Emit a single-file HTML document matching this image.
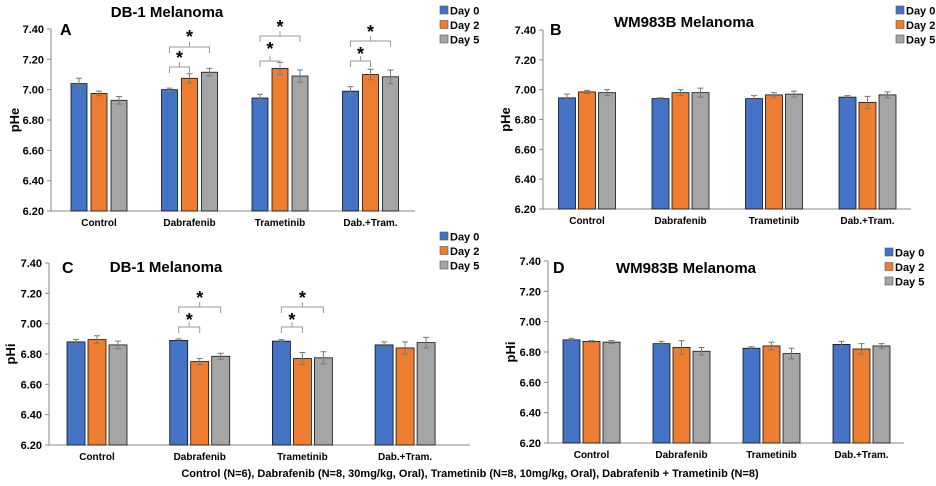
<!DOCTYPE html>
<html><head><meta charset="utf-8"><style>
body{margin:0;background:#fff;}
svg{display:block;font-family:"Liberation Sans",Arial,sans-serif;font-weight:bold;}
</style></head><body>
<svg id="fig" width="936" height="486" viewBox="0 0 936 486"></svg>
<script>
const categories=["Control","Dabrafenib","Trametinib","Dab.+Tram."];
const seriesNames=["Day 0","Day 2","Day 5"];
const yTicks=[6.2,6.4,6.6,6.8,7.0,7.2,7.4];
const yTickLabels=["6.20","6.40","6.60","6.80","7.00","7.20","7.40"];
// Panel A (pHe DB-1)
const aDay0=[7.04,7.00,6.945,6.99];
const aDay2=[6.975,7.075,7.14,7.10];
const aDay5=[6.93,7.115,7.09,7.085];
const aErr0=[0.035,0.01,0.025,0.03];
const aErr2=[0.015,0.03,0.04,0.035];
const aErr5=[0.025,0.025,0.04,0.045];
// Panel B (pHe WM983B)
const bDay0=[6.945,6.94,6.94,6.95];
const bDay2=[6.985,6.98,6.965,6.915];
const bDay5=[6.98,6.98,6.97,6.965];
const bErr0=[0.025,0.005,0.02,0.01];
const bErr2=[0.01,0.02,0.015,0.04];
const bErr5=[0.02,0.03,0.02,0.02];
// Panel C (pHi DB-1)
const cDay0=[6.88,6.89,6.885,6.86];
const cDay2=[6.895,6.75,6.77,6.84];
const cDay5=[6.86,6.785,6.775,6.875];
const cErr0=[0.015,0.01,0.01,0.02];
const cErr2=[0.025,0.02,0.04,0.04];
const cErr5=[0.025,0.02,0.04,0.035];
// Panel D (pHi WM983B)
const dDay0=[6.88,6.855,6.825,6.85];
const dDay2=[6.87,6.83,6.84,6.82];
const dDay5=[6.865,6.805,6.79,6.84];
const dErr0=[0.01,0.015,0.01,0.02];
const dErr2=[0.005,0.045,0.025,0.035];
const dErr5=[0.01,0.025,0.035,0.015];

const colors=["#4472c4","#ed7d31","#a5a5a5"];
const NS="http://www.w3.org/2000/svg";
const svg=document.getElementById('fig');
function mk(tag,attrs,parent,text){const e=document.createElementNS(NS,tag);for(const k in attrs)e.setAttribute(k,attrs[k]);if(text!==undefined)e.textContent=text;(parent||svg).appendChild(e);return e;}

const panels=[
 {id:"a",letter:"A",title:"DB-1 Melanoma",ylab:"pHe",vals:[aDay0,aDay2,aDay5],errs:[aErr0,aErr2,aErr5],left:51,right:415,top:29,bot:211,c0:99,sp:90.5,bw:16,step:20,
  ylx:14,letterXY:[60,35],titleXY:[167,17],legXY:[440,6],
  brackets:[[1,0,1,67,53],[1,0,2,47,32],[2,0,1,61,44],[2,0,2,36,22],[3,0,1,61,49],[3,0,2,41,27]]},
 {id:"b",letter:"B",title:"WM983B Melanoma",ylab:"pHe",vals:[bDay0,bDay2,bDay5],errs:[bErr0,bErr2,bErr5],left:543,right:911,top:30,bot:209,c0:587,sp:93.5,bw:17,step:20,
  ylx:505,letterXY:[550,35],titleXY:[684,27],legXY:[896,6],brackets:[]},
 {id:"c",letter:"C",title:"DB-1 Melanoma",ylab:"pHi",vals:[cDay0,cDay2,cDay5],errs:[cErr0,cErr2,cErr5],left:49,right:470,top:263,bot:445,c0:97,sp:102.7,bw:18,step:21,
  ylx:10,letterXY:[62,273],titleXY:[166,272],legXY:[440,232],
  brackets:[[1,0,1,327,315],[1,0,2,307,293],[2,0,1,327,315],[2,0,2,307,293]]},
 {id:"d",letter:"D",title:"WM983B Melanoma",ylab:"pHi",vals:[dDay0,dDay2,dDay5],errs:[dErr0,dErr2,dErr5],left:548,right:904,top:261,bot:443,c0:591.5,sp:90,bw:17,step:20,
  ylx:510,letterXY:[553,273],titleXY:[686,273],legXY:[885,248],brackets:[]}
];

panels.forEach(p=>{
 const g=mk('g',{},svg);
 
 
 const y=v=>p.bot-(v-6.2)/(7.4-6.2)*(p.bot-p.top);
 const xc=(i,s)=>p.c0+i*p.sp+(s-1)*p.step;
 const ya=mk('line',{x1:p.left,y1:p.top,x2:p.left,y2:p.bot,stroke:"#888","stroke-width":1},g);
 
 
 const xa=mk('line',{x1:p.left,y1:p.bot,x2:p.right,y2:p.bot,stroke:"#888","stroke-width":1},g);
 
 
 yTicks.forEach((t,k)=>{
  mk('line',{x1:p.left-4,y1:y(t),x2:p.left,y2:y(t),stroke:"#888"},g);
  const tl=mk('text',{x:p.left-7,y:y(t)+4,"text-anchor":"end","font-size":11},g,yTickLabels[k]);
  
  
 });
 const yt=mk('text',{x:0,y:0,"text-anchor":"middle","font-size":13,transform:`translate(${p.ylx+5},${(p.top+p.bot)/2}) rotate(-90)`},g,p.ylab);
 
 
 categories.forEach((c,i)=>{
  const cl=mk('text',{x:xc(i,1),y:p.bot+15,"text-anchor":"middle","font-size":10},g,c);
  
  
 });
 p.vals.forEach((arr,s)=>{
  arr.forEach((v,i)=>{
   const x=xc(i,s);
   const r=mk('rect',{x:x-p.bw/2,y:y(v),width:p.bw,height:p.bot-y(v),fill:colors[s],stroke:"#111","stroke-width":0.8},g);
   
   
   const e=p.errs[s][i];
   const eb=mk('path',{d:`M${x},${y(v+e)}V${y(v-e)}M${x-3},${y(v+e)}H${x+3}M${x-3},${y(v-e)}H${x+3}`,stroke:"#777","stroke-width":1,fill:"none"},g);
   
   
  });
 });
 p.brackets.forEach(b=>{
  const x1=xc(b[0],b[1]),x2=xc(b[0],b[2]),yy=b[3],m=(x1+x2)/2;
  const br=mk('path',{d:`M${x1},${yy+6}V${yy}H${x2}V${yy+6}M${m},${yy}V${yy-5}`,stroke:"#999","stroke-width":1,fill:"none"},g);
  
  
  const st=mk('text',{x:m,y:b[4]+11,"text-anchor":"middle","font-size":18},g,"*");
  
  
 });
 const lt=mk('text',{x:p.letterXY[0],y:p.letterXY[1],"font-size":16},g,p.letter);
 
 
 const tt=mk('text',{x:p.titleXY[0],y:p.titleXY[1],"text-anchor":"middle","font-size":15},g,p.title);
 
 
 seriesNames.forEach((n,s)=>{
  const lg=mk('g',{},g);
  
  
  const ly=p.legXY[1]+s*14.5;
  mk('rect',{x:p.legXY[0],y:ly,width:8,height:8,fill:colors[s],stroke:"#555","stroke-width":0.6},lg);
  mk('text',{x:p.legXY[0]+10,y:ly+8.5,"font-size":11},lg,n);
 });
});
const fn=mk('text',{x:470,y:477,"text-anchor":"middle","font-size":11},svg,"Control (N=6), Dabrafenib (N=8,  30mg/kg, Oral), Trametinib (N=8,  10mg/kg, Oral), Dabrafenib + Trametinib (N=8)");


</script>
</body></html>
